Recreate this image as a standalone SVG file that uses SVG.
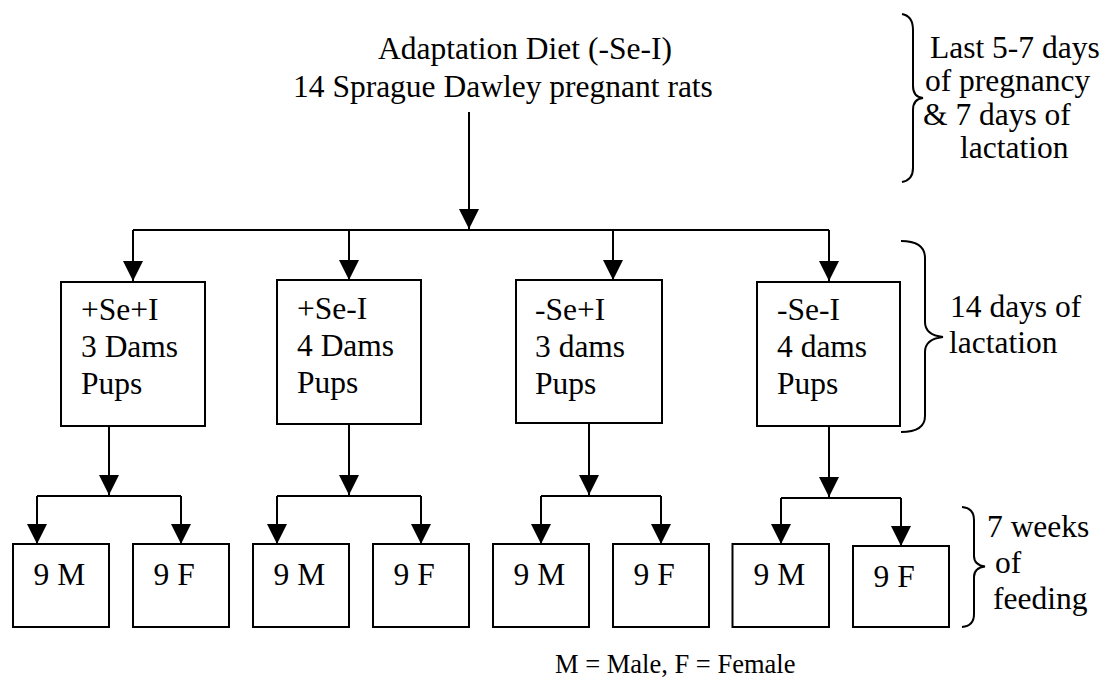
<svg xmlns="http://www.w3.org/2000/svg" width="1106" height="677" viewBox="0 0 1106 677">
<style>
text { font-family: "Liberation Serif", "Times New Roman", serif; font-size: 31.5px; fill: #000; }
.legend { font-size: 26.5px; }
.box { fill: #fff; stroke: #000; stroke-width: 2; }
.conn { fill: none; stroke: #000; stroke-width: 2; }
.brace { fill: none; stroke: #000; stroke-width: 2; }
</style>
<defs>
<marker id="arr" markerUnits="userSpaceOnUse" markerWidth="20" markerHeight="20" viewBox="0 0 20 20" refX="20" refY="10" orient="auto">
<path d="M0,0 L20,10 L0,20 z" fill="#000"/>
</marker>
</defs>
<rect width="1106" height="677" fill="#fff"/>

<g id="title">
<text x="378" y="59">Adaptation Diet (-Se-I)</text>
<text x="293" y="97">14 Sprague Dawley pregnant rats</text>
</g>

<g id="connectors">
<path class="conn" d="M469,112 L469,229" marker-end="url(#arr)"/>
<path class="conn" d="M133,230 L829,230"/>
<path class="conn" d="M133,230 L133,281" marker-end="url(#arr)"/>
<path class="conn" d="M349,230 L349,280" marker-end="url(#arr)"/>
<path class="conn" d="M613,230 L613,280" marker-end="url(#arr)"/>
<path class="conn" d="M829,230 L829,281" marker-end="url(#arr)"/>

<path class="conn" d="M109,425 L109,495" marker-end="url(#arr)"/>
<path class="conn" d="M37,496 L181,496"/>
<path class="conn" d="M37,496 L37,544" marker-end="url(#arr)"/>
<path class="conn" d="M181,496 L181,544" marker-end="url(#arr)"/>

<path class="conn" d="M349,424 L349,495" marker-end="url(#arr)"/>
<path class="conn" d="M277,496 L421,496"/>
<path class="conn" d="M277,496 L277,544" marker-end="url(#arr)"/>
<path class="conn" d="M421,496 L421,544" marker-end="url(#arr)"/>

<path class="conn" d="M589,423 L589,495" marker-end="url(#arr)"/>
<path class="conn" d="M541,496 L661,496"/>
<path class="conn" d="M541,496 L541,544" marker-end="url(#arr)"/>
<path class="conn" d="M661,496 L661,544" marker-end="url(#arr)"/>

<path class="conn" d="M829,426 L829,497" marker-end="url(#arr)"/>
<path class="conn" d="M781,498 L901,498"/>
<path class="conn" d="M781,498 L781,544" marker-end="url(#arr)"/>
<path class="conn" d="M901,498 L901,546" marker-end="url(#arr)"/>
</g>

<g id="box-sei">
<rect class="box" x="61" y="282" width="144" height="144"/>
<text x="81" y="320">+Se+I</text>
<text x="81" y="357">3 Dams</text>
<text x="81" y="394">Pups</text>
</g>
<g id="box-se-i">
<rect class="box" x="277" y="280" width="144" height="144"/>
<text x="297" y="319">+Se-I</text>
<text x="297" y="356">4 Dams</text>
<text x="297" y="393">Pups</text>
</g>
<g id="box-nse-i">
<rect class="box" x="516" y="280" width="146" height="143"/>
<text x="535" y="320">-Se+I</text>
<text x="535" y="357">3 dams</text>
<text x="535" y="394">Pups</text>
</g>
<g id="box-nse-ni">
<rect class="box" x="757" y="282" width="143" height="144"/>
<text x="777" y="320">-Se-I</text>
<text x="777" y="357">4 dams</text>
<text x="777" y="394">Pups</text>
</g>

<g id="g1-m"><rect class="box" x="13" y="544" width="96" height="83"/><text x="33.5" y="585">9 M</text></g>
<g id="g1-f"><rect class="box" x="133" y="544" width="96" height="83"/><text x="153.5" y="585">9 F</text></g>
<g id="g2-m"><rect class="box" x="253" y="544" width="96" height="83"/><text x="273.5" y="585">9 M</text></g>
<g id="g2-f"><rect class="box" x="373" y="544" width="96" height="83"/><text x="393.5" y="585">9 F</text></g>
<g id="g3-m"><rect class="box" x="493" y="544" width="96" height="83"/><text x="513.5" y="585">9 M</text></g>
<g id="g3-f"><rect class="box" x="613" y="544" width="96" height="83"/><text x="633.5" y="585">9 F</text></g>
<g id="g4-m"><rect class="box" x="732.5" y="544" width="96.5" height="83"/><text x="753.5" y="585">9 M</text></g>
<g id="g4-f"><rect class="box" x="853" y="546" width="96" height="81"/><text x="873.5" y="587">9 F</text></g>

<g id="brace-top">
<path class="brace" d="M902,14 Q913,16 913,30 L913,86 Q913,97 923,98 Q913,99 913,110 L913,168 Q913,180 902,182"/>
<text x="930" y="58">Last 5-7 days</text>
<text x="925" y="91">of pregnancy</text>
<text x="923" y="125">&amp; 7 days of</text>
<text x="960" y="158">lactation</text>
</g>

<g id="brace-mid">
<path class="brace" d="M901,241 Q925,241 925,258 L925,322 Q925,335 943,337 Q925,339 925,352 L925,416 Q925,432 901,432"/>
<text x="950" y="317">14 days of</text>
<text x="949" y="353">lactation</text>
</g>

<g id="brace-bottom">
<path class="brace" d="M962,507 Q974,508 974,520 L974,556 Q974,565 985,566.5 Q974,568 974,577 L974,614 Q974,626 962,627"/>
<text x="987" y="537">7 weeks</text>
<text x="995" y="573">of</text>
<text x="993" y="609">feeding</text>
</g>

<g id="legend">
<text class="legend" x="555" y="673">M = Male, F = Female</text>
</g>
</svg>
